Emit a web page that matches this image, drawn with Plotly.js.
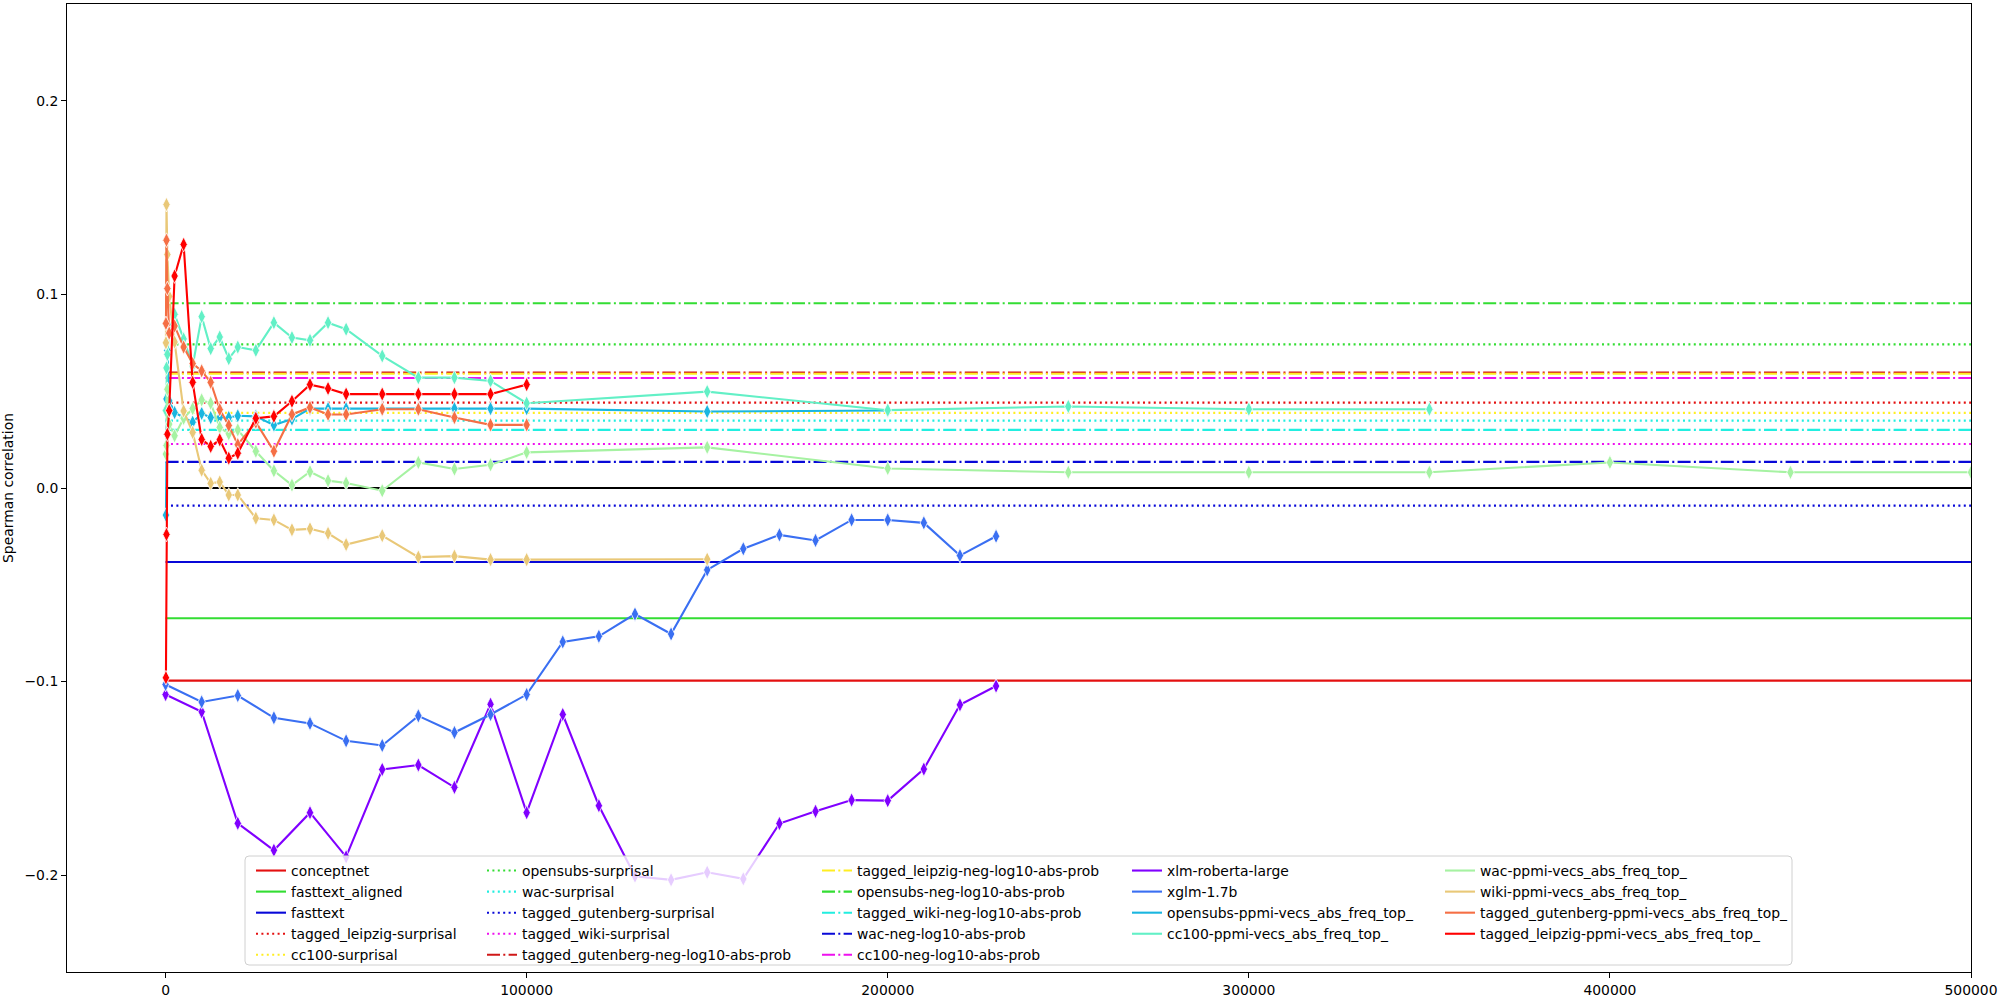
<!DOCTYPE html>
<html>
<head>
<meta charset="utf-8">
<script src="https://cdn.plot.ly/plotly-3.0.1.min.js"></script>
<style>html,body{margin:0;padding:0;background:#fff;}#chart{width:2000px;height:1000px;}</style>
</head>
<body>
<div id="chart"></div>
<script>
// ---------- DATA ----------
// constant baselines (name, value)
const baselineNames = [
  "conceptnet", "fasttext_aligned", "fasttext", "tagged_leipzig-surprisal", "cc100-surprisal",
  "opensubs-surprisal", "wac-surprisal", "tagged_gutenberg-surprisal", "tagged_wiki-surprisal",
  "tagged_gutenberg-neg-log10-abs-prob", "tagged_leipzig-neg-log10-abs-prob",
  "opensubs-neg-log10-abs-prob", "tagged_wiki-neg-log10-abs-prob", "wac-neg-log10-abs-prob",
  "cc100-neg-log10-abs-prob"
];
const baselineValues = [
  -0.0995, -0.0673, -0.0382, 0.0441, 0.0388,
  0.0742, 0.0348, -0.0091, 0.0227,
  0.0596, 0.0590,
  0.0954, 0.0300, 0.0135,
  0.0568
];
const baselineX = [0, 500000];
const zeroLineY = [0, 0];

// language models (x = vocabulary size)
const lmX = [0, 10000, 20000, 30000, 40000, 50000, 60000, 70000, 80000, 90000, 100000,
  110000, 120000, 130000, 140000, 150000, 160000, 170000, 180000, 190000, 200000,
  210000, 220000, 230000];
const xlmRoberta = [-0.1067, -0.1156, -0.1732, -0.1871, -0.1677, -0.1905, -0.1454, -0.1431,
  -0.1546, -0.1117, -0.1677, -0.1170, -0.1641, -0.2005, -0.2024, -0.1985, -0.2019,
  -0.1733, -0.1670, -0.1612, -0.1615, -0.1452, -0.1120, -0.1023];
const xglm = [-0.1015, -0.1105, -0.1072, -0.1187, -0.1216, -0.1306, -0.1330, -0.1177,
  -0.1263, -0.1170, -0.1067, -0.0795, -0.0766, -0.0651, -0.0754, -0.0423, -0.0314,
  -0.0242, -0.0271, -0.0165, -0.0165, -0.0180, -0.0349, -0.0249];

// ppmi vectors (x = top-n frequency cutoff)
const ppmiX = [100, 250, 500, 1000, 2500, 5000, 7500, 10000, 12500, 15000, 17500, 20000,
  25000, 30000, 35000, 40000, 45000, 50000, 60000, 70000, 80000, 90000, 100000,
  150000, 200000, 250000, 300000, 350000, 400000, 450000, 500000];
const opensubsPpmi = [-0.0140, 0.0460, 0.0710, 0.0450, 0.0390, 0.0364, 0.0340, 0.0385,
  0.0364, 0.0364, 0.0364, 0.0373, 0.0370, 0.0325, 0.0356, 0.0410, 0.0410, 0.0410,
  0.0410, 0.0410, 0.0410, 0.0410, 0.0410, 0.0395, 0.0400];
const cc100Ppmi = [0.0400, 0.0620, 0.0690, 0.0810, 0.0897, 0.0770, 0.0630, 0.0885,
  0.0720, 0.0780, 0.0668, 0.0728, 0.0711, 0.0854, 0.0777, 0.0763, 0.0854, 0.0820,
  0.0682, 0.0570, 0.0570, 0.0553, 0.0438, 0.0498, 0.0402, 0.0421, 0.0407, 0.0407];
const wacPpmi = [0.0175, 0.0220, 0.0510, 0.0330, 0.0270, 0.0360, 0.0410, 0.0455,
  0.0438, 0.0313, 0.0280, 0.0300, 0.0190, 0.0089, 0.0015, 0.0084, 0.0038, 0.0026,
  -0.0014, 0.0132, 0.0098, 0.0120, 0.0184, 0.0210, 0.0101, 0.0081, 0.0081, 0.0081,
  0.0132, 0.0081, 0.0081];
const wikiPpmi = [0.0750, 0.1464, 0.1206, 0.0990, 0.0754, 0.0398, 0.0287, 0.0092,
  0.0024, 0.0031, -0.0036, -0.0036, -0.0156, -0.0165, -0.0216, -0.0211, -0.0234,
  -0.0292, -0.0246, -0.0357, -0.0352, -0.0370, -0.0370, -0.0368];
const gutenbergPpmi = [0.0850, 0.1280, 0.1030, 0.0800, 0.0837, 0.0728, 0.0643, 0.0605,
  0.0546, 0.0405, 0.0323, 0.0224, 0.0340, 0.0190, 0.0380, 0.0416, 0.0380, 0.0380,
  0.0407, 0.0407, 0.0364, 0.0326, 0.0326];
const leipzigPpmi = [-0.0980, -0.0240, 0.0278, 0.0400, 0.1095, 0.1258, 0.0546, 0.0251,
  0.0215, 0.0249, 0.0154, 0.0180, 0.0360, 0.0370, 0.0448, 0.0534, 0.0514, 0.0485,
  0.0485, 0.0485, 0.0485, 0.0485, 0.0534];

const seriesNames = ["xlm-roberta-large", "xglm-1.7b", "opensubs-ppmi-vecs_abs_freq_top_",
  "cc100-ppmi-vecs_abs_freq_top_", "wac-ppmi-vecs_abs_freq_top_", "wiki-ppmi-vecs_abs_freq_top_",
  "tagged_gutenberg-ppmi-vecs_abs_freq_top_", "tagged_leipzig-ppmi-vecs_abs_freq_top_"];

const xTicks = [0, 100000, 200000, 300000, 400000, 500000];
const xTickText = ["0", "100000", "200000", "300000", "400000", "500000"];
const yTicks = [-0.2, -0.1, 0.0, 0.1, 0.2];
const yTickText = ["\u22120.2", "\u22120.1", "0.0", "0.1", "0.2"];
const yTitle = "Spearman correlation";

// ---------- STYLE ----------
const RED = "#e41010", GREEN = "#33dd33", BLUE = "#0808d8", YELLOW = "#ffee22",
      CYAN = "#22eee0", MAGENTA = "#ee11ee";
const DOT = "2px,3.4px";
const DASHDOT = "13px,3.3px,2px,3.3px";
const baselineStyles = [
  [RED, "solid"], [GREEN, "solid"], [BLUE, "solid"], [RED, DOT], [YELLOW, DOT],
  [GREEN, DOT], [CYAN, DOT], [BLUE, DOT], [MAGENTA, DOT],
  ["#d01818", DASHDOT], [YELLOW, DASHDOT],
  [GREEN, DASHDOT], [CYAN, DASHDOT], [BLUE, DASHDOT],
  [MAGENTA, DASHDOT]
];
const baselineLegend = ["legend","legend","legend","legend","legend",
  "legend2","legend2","legend2","legend2","legend2",
  "legend3","legend3","legend3","legend3","legend3"];

// rainbow colormap samples
const seriesColors = ["#8000ff", "#3a6ff2", "#1ab6e0", "#62f0c6", "#a6f2a2", "#e9c878", "#f56f45", "#ff0000"];
const seriesData = [
  [lmX, xlmRoberta], [lmX, xglm],
  [ppmiX.slice(0, opensubsPpmi.length), opensubsPpmi],
  [ppmiX.slice(0, cc100Ppmi.length), cc100Ppmi],
  [ppmiX.slice(0, wacPpmi.length), wacPpmi],
  [ppmiX.slice(0, wikiPpmi.length), wikiPpmi],
  [ppmiX.slice(0, gutenbergPpmi.length), gutenbergPpmi],
  [ppmiX.slice(0, leipzigPpmi.length), leipzigPpmi]
];
const seriesLegend = ["legend4","legend4","legend4","legend4","legend5","legend5","legend5","legend5"];

const FONT = {family: "DejaVu Sans", size: 13.9, color: "#000"};
const traces = [];

// zero line
traces.push({x: baselineX, y: zeroLineY, mode: "lines", line: {color: "#000", width: 2.2},
  showlegend: false, hoverinfo: "skip"});

baselineNames.forEach((n, i) => {
  traces.push({
    x: baselineX, y: [baselineValues[i], baselineValues[i]], mode: "lines", name: n,
    line: {color: baselineStyles[i][0], dash: baselineStyles[i][1], width: 2.1},
    legend: baselineLegend[i], hoverinfo: "skip"
  });
});

seriesNames.forEach((n, i) => {
  traces.push({
    x: seriesData[i][0], y: seriesData[i][1], mode: "lines+markers", name: n,
    line: {color: seriesColors[i], width: 2.1},
    marker: {symbol: "diamond-tall", size: 10.5, color: seriesColors[i], line: {color: "#fff", width: 0.8}},
    showlegend: false, hoverinfo: "skip"
  });
});
// legend proxies (line only)
seriesNames.forEach((n, i) => {
  traces.push({x: [null], y: [null], mode: "lines", name: n,
    line: {color: seriesColors[i], width: 2.1}, legend: seriesLegend[i], hoverinfo: "skip"});
});

// pixel helpers for layout elements (plot area: x 67..1971, y 4..972)
const L = 67, R = 1971, T = 4, B = 972;
const px = v => (v - L) / (R - L);
const py = v => (B - v) / (B - T);

function legendAt(xpx) {
  return {x: px(xpx), y: py(855), xanchor: "left", yanchor: "top", orientation: "v",
    bgcolor: "rgba(0,0,0,0)", borderwidth: 0, font: FONT, itemwidth: 30,
    traceorder: "normal", tracegroupgap: 0};
}

// rounded legend frame
const fx0 = px(245), fx1 = px(1792), fy0 = py(965), fy1 = py(856);
const rx = 4 / (R - L), ry = 4 / (B - T);
const framePath = `M${fx0 + rx},${fy0} L${fx1 - rx},${fy0} Q${fx1},${fy0} ${fx1},${fy0 + ry} ` +
  `L${fx1},${fy1 - ry} Q${fx1},${fy1} ${fx1 - rx},${fy1} L${fx0 + rx},${fy1} Q${fx0},${fy1} ${fx0},${fy1 - ry} ` +
  `L${fx0},${fy0 + ry} Q${fx0},${fy0} ${fx0 + rx},${fy0} Z`;

const layout = {
  width: 2000, height: 1000,
  margin: {l: L, r: 2000 - R, t: T, b: 1000 - B, pad: 0},
  paper_bgcolor: "#fff", plot_bgcolor: "#fff",
  font: FONT,
  showlegend: true,
  hovermode: false,
  xaxis: {
    range: [-27300, 500000], tickvals: xTicks, ticktext: xTickText,
    showgrid: false, zeroline: false, showline: true, mirror: true, linecolor: "#000", linewidth: 1,
    ticks: "outside", ticklen: 5, tickwidth: 1, tickcolor: "#000", tickfont: FONT
  },
  yaxis: {
    range: [-0.25, 0.25], tickvals: yTicks, ticktext: yTickText,
    showgrid: false, zeroline: false, showline: true, mirror: true, linecolor: "#000", linewidth: 1,
    ticks: "outside", ticklen: 5, tickwidth: 1, tickcolor: "#000", tickfont: FONT,
    title: {text: yTitle, font: FONT, standoff: 8}
  },
  shapes: [{type: "path", xref: "paper", yref: "paper", path: framePath,
    fillcolor: "rgba(255,255,255,0.8)", line: {color: "#d0d0d0", width: 1}, layer: "above"}],
  legend: legendAt(251),
  legend2: legendAt(482),
  legend3: legendAt(817),
  legend4: legendAt(1127),
  legend5: legendAt(1440)
};

Plotly.newPlot("chart", traces, layout, {displayModeBar: false, staticPlot: true});
</script>
</body>
</html>
